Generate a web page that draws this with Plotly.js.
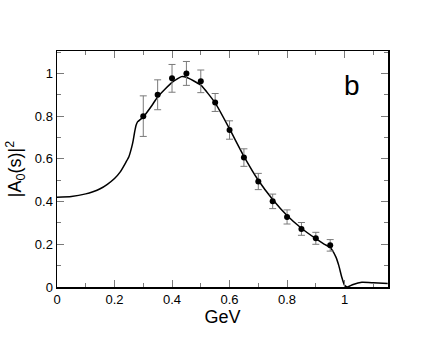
<!DOCTYPE html>
<html>
<head>
<meta charset="utf-8">
<script src="https://cdn.plot.ly/plotly-3.0.1.min.js"></script>
<style>
  html, body { margin: 0; padding: 0; background: #fff; }
  #chart { width: 437px; height: 338px; }
</style>
</head>
<body>
<div id="chart"></div>
<script>
// theory curve |A0(s)|^2
var curveX = [0, 0.05, 0.1, 0.125, 0.15, 0.175, 0.2, 0.22, 0.24, 0.25, 0.26, 0.265, 0.27, 0.275, 0.28, 0.3, 0.33,
              0.35, 0.4, 0.433, 0.45, 0.5, 0.55, 0.6, 0.65, 0.7, 0.75, 0.8, 0.85, 0.9, 0.93,
              0.95, 0.97, 0.98, 0.99, 1.0, 1.01, 1.03, 1.06, 1.1, 1.15];
var curveY = [0.42, 0.424, 0.436, 0.446, 0.46, 0.481, 0.508, 0.539, 0.585, 0.61, 0.656, 0.687, 0.726, 0.757, 0.773, 0.796, 0.85,
              0.89, 0.958, 0.985, 0.982, 0.945, 0.862, 0.74, 0.612, 0.5, 0.41, 0.335, 0.275, 0.226, 0.2,
              0.185, 0.14, 0.1, 0.047, 0.008, 0.0, 0.012, 0.022, 0.02, 0.016];

// data points with errors
var dataX = [0.3, 0.35, 0.4, 0.45, 0.5, 0.55, 0.6, 0.65, 0.7, 0.75, 0.8, 0.85, 0.9, 0.95];
var dataY = [0.80, 0.90, 0.977, 1.0, 0.963, 0.864, 0.735, 0.606, 0.494, 0.401, 0.328, 0.272, 0.228, 0.195];
var dataErr = [0.095, 0.07, 0.065, 0.056, 0.053, 0.042, 0.043, 0.041, 0.038, 0.034, 0.033, 0.03, 0.028, 0.027];

var curve = {
    x: curveX,
    y: curveY,
    type: "scatter",
    mode: "lines",
    line: {color: "black", width: 1.5, shape: "spline", smoothing: 0.5},
    hoverinfo: "skip"
};

var points = {
    x: dataX,
    y: dataY,
    type: "scatter",
    mode: "markers",
    marker: {color: "black", size: 6},
    error_y: {type: "data", array: dataErr, visible: true, color: "#7a7a7a", thickness: 1, width: 3.5}
};

var axisCommon = {
    showgrid: false,
    zeroline: false,
    showline: true,
    linecolor: "black",
    linewidth: 1.5,
    mirror: "ticks",
    ticks: "inside",
    ticklen: 7,
    tickwidth: 1,
    tickcolor: "#7a7a7a",
    dtick: 0.2,
    tick0: 0,
    tickfont: {family: "Liberation Sans, Arial, sans-serif", size: 13, color: "black"},
    minor: {ticks: "inside", ticklen: 4, tickcolor: "#7a7a7a", tickwidth: 1, dtick: 0.1, tick0: 0, showgrid: false}
};

var layout = {
    width: 437,
    height: 338,
    margin: {l: 57, r: 49, t: 51, b: 51},
    paper_bgcolor: "white",
    plot_bgcolor: "white",
    showlegend: false,
    font: {family: "Liberation Sans, Arial, sans-serif", color: "black"},
    xaxis: Object.assign({}, axisCommon, {
        range: [0, 1.151],
        title: {text: "GeV", font: {size: 18}, standoff: 4}
    }),
    yaxis: Object.assign({}, axisCommon, {
        range: [0, 1.105],
        title: {text: "|A<sub>0</sub>(s)|<sup>2</sup>", font: {size: 18}, standoff: 8}
    }),
    annotations: [{
        text: "b",
        x: 1.025, y: 0.945, xref: "x", yref: "y",
        showarrow: false,
        font: {size: 28, color: "black"}
    }]
};

Plotly.newPlot("chart", [curve, points], layout, {displayModeBar: false, staticPlot: true});
</script>
</body>
</html>
